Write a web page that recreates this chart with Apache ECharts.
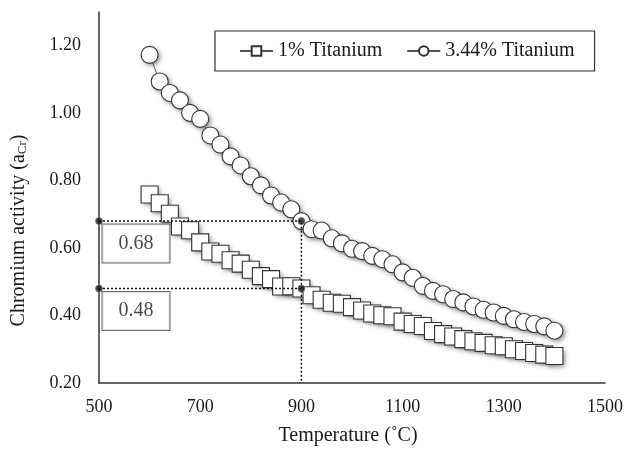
<!DOCTYPE html>
<html>
<head>
<meta charset="utf-8">
<script src="https://cdn.jsdelivr.net/npm/echarts@6/dist/echarts.min.js"></script>
<style>
  html, body { margin: 0; padding: 0; background: #fff; }
  #chart { width: 626px; height: 451px; }
</style>
</head>
<body>
<div id="chart"></div>
<script>
// Temperatures (°C) at which chromium activity was evaluated
const temperatures = [
  600, 620, 640, 660, 680, 700, 720, 740, 760, 780,
  800, 820, 840, 860, 880, 900, 920, 940, 960, 980,
  1000, 1020, 1040, 1060, 1080, 1100, 1120, 1140, 1160, 1180,
  1200, 1220, 1240, 1260, 1280, 1300, 1320, 1340, 1360, 1380,
  1400
];

// Chromium activity, 1% Ti alloy
const ti1 = [
  0.759, 0.733, 0.702, 0.664, 0.653, 0.617, 0.590, 0.583, 0.564, 0.554,
  0.536, 0.517, 0.508, 0.486, 0.487, 0.480, 0.460, 0.447, 0.438, 0.435,
  0.425, 0.415, 0.406, 0.401, 0.398, 0.382, 0.375, 0.369, 0.354, 0.345,
  0.338, 0.330, 0.324, 0.319, 0.312, 0.309, 0.300, 0.295, 0.289, 0.284,
  0.280
];

// Chromium activity, 3.44% Ti alloy
const ti344 = [
  1.173, 1.094, 1.060, 1.038, 1.001, 0.983, 0.934, 0.907, 0.872, 0.845,
  0.813, 0.786, 0.756, 0.735, 0.715, 0.680, 0.656, 0.652, 0.629, 0.614,
  0.598, 0.591, 0.577, 0.567, 0.552, 0.528, 0.512, 0.488, 0.473, 0.463,
  0.449, 0.439, 0.427, 0.417, 0.409, 0.399, 0.389, 0.381, 0.375, 0.368,
  0.355
];

// Read-off guide: activity of each alloy at 900 °C
const guideTemp = 900;
const guideValues = [0.68, 0.48];

const seriesNames = ['1% Titanium', '3.44% Titanium'];

const xTicks = { min: 500, max: 1500, interval: 200 };
const yTicks = { min: 0.2, max: 1.3, interval: 0.2 };

const FONT = '"Liberation Serif", "Times New Roman", serif';
const INK = '#1a1a1a';

const pairs = (ys) => temperatures.map((t, i) => [t, ys[i]]);

// Soft drop shadow under each marker (drawn as its own layer so the
// shadow never tints the white marker faces)
function shadowLayer(ys, symbol) {
  return {
    type: 'line',
    data: pairs(ys),
    symbol: symbol,
    symbolSize: 17,
    showAllSymbol: true,
    silent: true,
    lineStyle: { width: 0, opacity: 0 },
    itemStyle: {
      color: '#ffffff',
      borderWidth: 0,
      shadowColor: 'rgba(0,0,0,0.5)',
      shadowBlur: 5,
      shadowOffsetX: 2,
      shadowOffsetY: 2
    },
    z: 1
  };
}

function markerLayer(name, ys, symbol) {
  return {
    name: name,
    type: 'line',
    data: pairs(ys),
    symbol: symbol,
    symbolSize: 17,
    showAllSymbol: true,
    lineStyle: { color: '#555', width: 1 },
    itemStyle: { color: '#ffffff', borderColor: '#333', borderWidth: 1.1 },
    z: 2
  };
}

const chart = echarts.init(document.getElementById('chart'), null, { renderer: 'canvas' });

const minX = xTicks.min;
const floorY = yTicks.min;

chart.setOption({
  animation: false,
  backgroundColor: '#ffffff',
  textStyle: { fontFamily: FONT, color: INK },
  grid: { left: 99, right: 18, top: 12, bottom: 67, containLabel: false },
  legend: {
    data: seriesNames,
    left: 215,
    top: 31,
    orient: 'horizontal',
    padding: [9, 20, 9, 24],
    itemGap: 24,
    itemWidth: 33,
    itemHeight: 12,
    borderColor: '#333',
    borderWidth: 1.2,
    backgroundColor: '#ffffff',
    textStyle: { fontFamily: FONT, fontSize: 20, color: INK, lineHeight: 22 }
  },
  xAxis: {
    type: 'value',
    min: xTicks.min,
    max: xTicks.max,
    interval: xTicks.interval,
    name: 'Temperature (˚C)',
    nameLocation: 'middle',
    nameGap: 43,
    nameTextStyle: { fontFamily: FONT, fontSize: 20, color: INK, padding: [0, 8, 0, 0] },
    axisLine: { show: true, lineStyle: { color: '#333', width: 1.5 } },
    axisTick: { show: false },
    splitLine: { show: false },
    axisLabel: {
      margin: 15, fontFamily: FONT, fontSize: 18, color: INK,
      formatter: (v) => String(v)
    }
  },
  yAxis: {
    type: 'value',
    min: yTicks.min,
    max: yTicks.max,
    interval: yTicks.interval,
    name: 'Chromium activity (a{sub|Cr})',
    nameLocation: 'middle',
    nameGap: 70,
    nameRotate: 90,
    nameTextStyle: {
      fontFamily: FONT, fontSize: 20, color: INK,
      padding: [0, 66, 0, 0],
      rich: {
        sub: { fontFamily: FONT, fontSize: 13, color: INK, padding: [0, 0, -8, 0] }
      }
    },
    axisLine: { show: true, lineStyle: { color: '#333', width: 1.5 } },
    axisTick: { show: false },
    splitLine: { show: false },
    axisLabel: {
      margin: 18, fontFamily: FONT, fontSize: 18, color: INK,
      showMaxLabel: false,
      formatter: (v) => v.toFixed(2)
    }
  },
  series: [
    shadowLayer(ti1, 'rect'),
    shadowLayer(ti344, 'circle'),
    markerLayer(seriesNames[0], ti1, 'rect'),
    markerLayer(seriesNames[1], ti344, 'circle'),
    // dotted guide lines reading both curves at 900 °C
    {
      type: 'line',
      data: [[minX, guideValues[0]], [guideTemp, guideValues[0]], [guideTemp, floorY]],
      symbol: 'none',
      silent: true,
      lineStyle: { color: '#111', width: 1.5, type: [2, 2] },
      z: 5
    },
    {
      type: 'line',
      data: [[minX, guideValues[1]], [guideTemp, guideValues[1]]],
      symbol: 'none',
      silent: true,
      lineStyle: { color: '#111', width: 1.5, type: [2, 2] },
      z: 5
    },
    // guide end points with value boxes
    {
      type: 'scatter',
      symbol: 'circle',
      symbolSize: 7,
      silent: true,
      z: 6,
      itemStyle: { color: '#111', borderColor: '#777', borderWidth: 1 },
      label: {
        show: false,
        position: [7.5, 7.5],
        formatter: (p) => p.value[1].toFixed(2),
        fontFamily: FONT,
        fontSize: 20,
        lineHeight: 20,
        color: INK,
        backgroundColor: '#ffffff',
        borderColor: '#444',
        borderWidth: 1,
        padding: [9, 16, 9, 16]
      },
      data: [
        { value: [minX, guideValues[0]], label: { show: true } },
        { value: [guideTemp, guideValues[0]] },
        { value: [minX, guideValues[1]], label: { show: true } },
        { value: [guideTemp, guideValues[1]] }
      ]
    }
  ]
});
</script>
</body>
</html>
